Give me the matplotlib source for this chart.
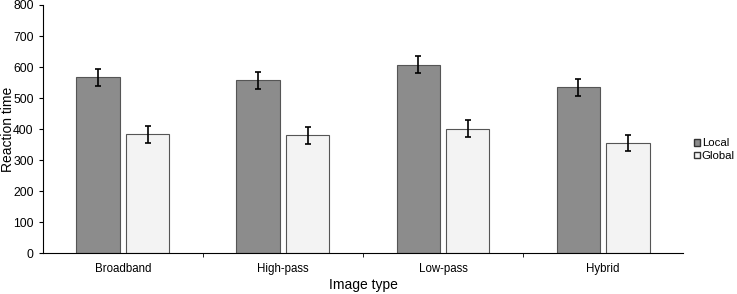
import matplotlib.pyplot as plt
import numpy as np
from matplotlib.patches import Patch

plt.rcParams['font.family'] = ['Liberation Sans', 'DejaVu Sans']

categories = ["Broadband", "High-pass", "Low-pass", "Hybrid"]
local_vals = [567, 557, 608, 535]
global_vals = [383, 380, 401, 355]
local_err = [28, 28, 28, 27]
global_err = [28, 27, 28, 26]

fig = plt.figure(figsize=(7.37, 2.94), dpi=100)
ax = fig.add_axes([0.058, 0.139, 0.869, 0.844])
x = np.arange(len(categories))
w = 0.27
off = 0.155
ax.bar(x - off, local_vals, w, color="#8c8c8c", edgecolor="#555555", linewidth=0.8,
       yerr=local_err, error_kw=dict(ecolor="black", capsize=2.5, elinewidth=1.2, capthick=1.2), label="Local")
ax.bar(x + off, global_vals, w, color="#f3f3f3", edgecolor="#555555", linewidth=0.8,
       yerr=global_err, error_kw=dict(ecolor="black", capsize=2.5, elinewidth=1.2, capthick=1.2), label="Global")

ax.set_xlim(-0.5, len(categories) - 0.5)
ax.set_ylim(0, 800)
ax.set_yticks(range(0, 801, 100))
ax.set_xticks(x)
ax.set_xticklabels(categories, fontsize=8.3)
ax.tick_params(axis="x", length=0, pad=7)
ax.set_xticks(np.arange(0.5, len(categories) - 0.5, 1), minor=True)
ax.tick_params(axis="x", which="minor", length=3, direction="out")
ax.tick_params(axis="y", labelsize=8.8, length=3, direction="out")
for s in ["top", "right"]:
    ax.spines[s].set_visible(False)
ax.set_xlabel("Image type", fontsize=10, labelpad=2)
ax.set_ylabel("Reaction time", fontsize=10)
ax.yaxis.set_label_coords(-0.044, 0.5)

handles = [Patch(facecolor="#8c8c8c", edgecolor="#333333", label="Local"),
           Patch(facecolor="#f3f3f3", edgecolor="#333333", label="Global")]
fig.legend(handles=handles, loc="upper left", bbox_to_anchor=(0.936, 0.545), frameon=False,
           fontsize=8.2, handlelength=0.5, handleheight=0.5, handletextpad=0.15, labelspacing=0.25,
           borderaxespad=0)
fig.savefig("out.png", dpi=100)
